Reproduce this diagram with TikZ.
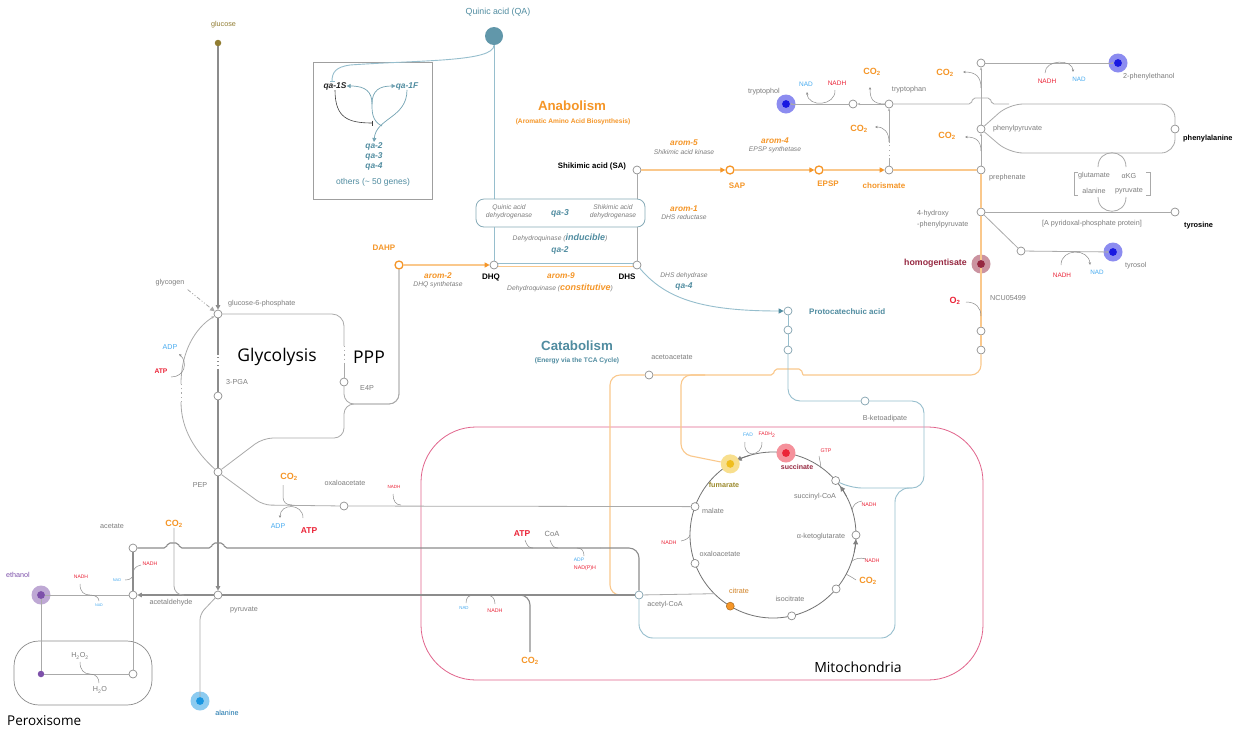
\documentclass[tikz,border=0pt]{standalone}
\usepackage{fontspec}
\setmainfont{Liberation Sans}
\newfontfamily\orgfont{Open Sans}
\usepackage{tikz}
\usetikzlibrary{arrows.meta,positioning,calc}
\definecolor{pgray}{RGB}{125,125,125}
\definecolor{lgray}{RGB}{170,170,170}
\definecolor{dgray}{RGB}{140,140,140}
\definecolor{porange}{RGB}{245,150,40}
\definecolor{lorange}{RGB}{250,200,140}
\definecolor{pteal}{RGB}{80,140,160}
\definecolor{lteal}{RGB}{150,190,205}
\definecolor{pred}{RGB}{235,35,55}
\definecolor{pblue}{RGB}{70,170,240}
\definecolor{ppink}{RGB}{225,100,140}
\definecolor{pviolet}{RGB}{125,80,170}
\definecolor{pindigo}{RGB}{25,25,225}
\definecolor{pwine}{RGB}{150,40,65}
\definecolor{polive}{RGB}{145,125,50}
\definecolor{pyellow}{RGB}{240,190,30}
\definecolor{psky}{RGB}{25,150,225}
\newcommand{\fsz}[1]{\fontsize{#1}{#1}\selectfont}

\begin{document}
\begin{tikzpicture}[x=1pt, y=-1pt,
  met/.style={circle, draw=dgray, fill=white, line width=0.7pt, minimum size=8pt, inner sep=0pt},
  omet/.style={met, draw=porange, line width=1.3pt},
  tmet/.style={met, draw=lteal!85!black},
  halo/.style={circle, inner sep=0pt, minimum size=19pt, fill=#1!50,
    path picture={\fill[#1] (path picture bounding box.center) circle (3.9pt);}},
  bead/.style={circle, inner sep=0pt, minimum size=6.5pt, fill=#1},
  tx/.style={font=\fsz{7.2}, text=pgray, inner sep=0pt},
  ttl/.style={font=\fsz{13.3}\bfseries, inner sep=0pt},
  subt/.style={font=\fsz{6.6}\bfseries, inner sep=0pt},
  enz/.style={font=\fsz{8.3}\bfseries\itshape, text=porange, inner sep=0pt},
  ename/.style={font=\fsz{6.7}\itshape, text=pgray, inner sep=0pt},
  gene/.style={font=\fsz{8.4}\bfseries\itshape, text=pteal, inner sep=0pt},
  cpd/.style={font=\fsz{8}\bfseries, inner sep=0pt},
  co2/.style={font=\fsz{9}\bfseries, text=porange, inner sep=0pt},
  big/.style={font=\orgfont\fsz{17.5}, inner sep=0pt},
  nadh/.style={font=\fsz{#1}, text=pred, inner sep=0pt}, nadh/.default=5.3,
  nad/.style={font=\fsz{#1}, text=pblue, inner sep=0pt}, nad/.default=4,
  gl/.style={draw=lgray, line width=0.8pt},
  gk/.style={draw=dgray, line width=1.1pt},
  ol/.style={draw=lorange, line width=1.1pt},
  tl/.style={draw=lteal, line width=0.9pt},
  qtl/.style={draw=pteal!80, line width=0.7pt},
  crl/.style={draw=dgray, line width=0.5pt},
  tca/.style={draw=gray!110, line width=0.8pt},
  dotline/.style={dash pattern=on 1.2pt off 3pt},
  fwd/.style={-{Triangle[length=4.5pt, width=4.5pt]}},
  otip/.style={-{Triangle[length=5pt, width=5pt, color=porange]}},
  ttip/.style={-{Triangle[length=5pt, width=5pt, color=pteal]}},
  ktip/.style={-{Triangle[length=5pt, width=5pt, color=gray]}},
  sfwd/.style={-{Stealth[length=2.8pt, width=2.4pt]}},
]
\useasboundingbox (0,0) rectangle (1237,732);
\fill[white] (0,0) rectangle (1237,732);

% compartments
\draw[ppink, line width=0.8pt, rounded corners=55pt] (421,427) rectangle (983,680);
\node[font=\orgfont\fsz{14}, inner sep=0pt] (mito) at (858,667) {Mitochondria};
\draw[dgray, line width=0.7pt, rounded corners=25pt] (14,641) rectangle (152,705);
\node[font=\orgfont\fsz{13.5}, inner sep=0pt, anchor=west] (perox) at (7,721) {Peroxisome};

% titles
\node[ttl, text=porange] (anab) at (572,106) {Anabolism};
\node[subt, text=porange] (anabs) at (573,122) {(Aromatic Amino Acid Biosynthesis)};
\node[ttl, text=pteal] (catab) at (577,346) {Catabolism};
\node[subt, text=pteal] (catabs) at (577,361) {(Energy via the TCA Cycle)};
\node[big] (glyl) at (277,357) {Glycolysis};
\node[big] (pppl) at (369,357) {PPP};

% glycolysis / PPP metabolites
\node[bead=polive] (glc) at (218,43) {};
\node[tx, text=polive] (glcl) at (223.5,25) {glucose};
\node[met] (g6p) at (218,314) {};
\node[tx, anchor=west] (g6pl) at (228,304) {glucose-6-phosphate};
\node[tx] (glyg) at (170,283) {glycogen};
\node[met] (pga) at (218,396) {};
\node[tx, anchor=west] (pgal) at (226,382) {3-PGA};
\node[met] (pep) at (218,472) {};
\node[tx] (pepl) at (200,485) {PEP};
\node[nad=7.1] (adp1) at (170,347) {ADP};
\node[nadh, font=\fsz{6.7}\bfseries] (atp1) at (161,371) {ATP};
\node[met] (e4p) at (344,382) {};
\node[tx] (e4pl) at (367,388) {E4P};

% shikimate pathway
\node[omet] (dahp) at (399,265) {};
\node[cpd, text=porange] (dahpl) at (384,248) {DAHP};
\node[met] (dhq) at (494,265) {};
\node[cpd] (dhql) at (491,277) {DHQ};
\node[met] (dhs) at (637,265) {};
\node[cpd] (dhsl) at (627,277) {DHS};
\node[met] (sa) at (637,170) {};
\node[cpd, font=\fsz{7.8}\bfseries] (sal) at (592,166) {Shikimic acid (SA)};
\node[omet] (sap) at (730,170) {};
\node[cpd, text=porange] (sapl) at (737,186) {SAP};
\node[omet] (epsp) at (819,170) {};
\node[cpd, text=porange] (epspl) at (828,184) {EPSP};
\node[met] (chor) at (889,170) {};
\node[cpd, text=porange] (chorl) at (884,186) {chorismate};
\node[circle, fill=pteal!90, minimum size=18pt, inner sep=0pt] (qa) at (494,36) {};
\node[tx, font=\fsz{8.8}, text=pteal] (qal) at (498,12) {Quinic acid (QA)};

\node[enz] (a2) at (438,276) {arom-2};
\node[ename] (a2n) at (438,285) {DHQ synthetase};
\node[enz] (a9) at (561,276) {arom-9};
\node[ename] (a9n) at (560,288) {Dehydroquinase (\textcolor{porange}{\fsz{9}\bfseries constitutive})};
\node[gene] (qa2) at (560,250) {qa-2};
\node[ename] (dqi) at (560,238) {Dehydroquinase (\textcolor{pteal}{\fsz{9}\bfseries inducible})};
\node[enz] (a5) at (684,143) {arom-5};
\node[ename] (a5n) at (684,152) {Shikimic acid kinase};
\node[enz] (a4) at (775,141) {arom-4};
\node[ename] (a4n) at (775,150) {EPSP synthetase};
\node[enz] (a1) at (684,209) {arom-1};
\node[ename] (a1n) at (684,217) {DHS reductase};
\node[ename] (qa4n) at (684,276) {DHS dehydrase};
\node[gene] (qa4) at (684,286) {qa-4};

% aromatic amino acids
\node[met] (trp) at (889,104) {};
\node[tx] (trpl) at (909,90) {tryptophan};
\node[met] (trpm) at (853,104) {};
\node[halo=pindigo] (tol) at (786,104) {};
\node[tx] (toll) at (764,92) {tryptophol};
\node[nad=6.5] (nad1) at (806,84) {NAD};
\node[nadh=6.5] (nadh1) at (837,83) {NADH};
\node[co2] (co2t1) at (859,129) {CO\textsubscript{2}};
\node[co2] (co2t2) at (872,72) {CO\textsubscript{2}};
\node[met] (preph) at (981,170) {};
\node[tx, anchor=west] (prephl) at (989,178) {prephenate};
\node[met] (phpy) at (981,129) {};
\node[tx, anchor=west] (phpyl) at (993,129) {phenylpyruvate};
\node[met] (phtop) at (981,63) {};
\node[halo=pindigo] (phet) at (1118,63) {};
\node[tx, anchor=west] (phetl) at (1123,77) {2-phenylethanol};
\node[nadh=6.5] (nadh2) at (1047,81) {NADH};
\node[nad=6.3] (nad2) at (1079,79) {NAD};
\node[co2] (co2p1) at (947,136) {CO\textsubscript{2}};
\node[co2] (co2p2) at (945,73) {CO\textsubscript{2}};
\node[met] (phe) at (1175,129) {};
\node[cpd, font=\fsz{7.4}\bfseries, anchor=west] (phel) at (1183,139) {phenylalanine};
\node[met] (hpp) at (981,212) {};
\node[tx, anchor=west, align=left, font=\fontsize{7.2}{10.5}\selectfont] (hppl) at (917,219) {4-hydroxy\\-phenylpyruvate};
\node[met] (tyr) at (1175,212) {};
\node[cpd, font=\fsz{7.4}\bfseries, anchor=west] (tyrl) at (1184,226) {tyrosine};
\node[tx] (pyrdx) at (1092,224) {[A pyridoxal-phosphate protein]};
\node[tx] (glut) at (1094,176) {glutamate};
\node[tx] (akgt) at (1129,176) {αKG};
\node[tx] (alat) at (1094,191) {alanine};
\node[tx] (pyrt) at (1129,191) {pyruvate};
\node[met] (tyi) at (1021,251) {};
\node[halo=pindigo] (tyol) at (1113,252) {};
\node[tx, anchor=west] (tyoll) at (1125,266) {tyrosol};
\node[nadh=6.4] (nadh3) at (1062,275) {NADH};
\node[nad=6.3] (nad3) at (1097,272) {NAD};
\node[halo=pwine] (hgs) at (981,264) {};
\node[cpd, font=\fsz{8.8}\bfseries, text=pwine, anchor=east] (hgsl) at (967,263) {homogentisate};
\node[co2, text=pred] (o2l) at (955,301) {O\textsubscript{2}};
\node[tx, anchor=west] (ncu) at (990,298) {NCU05499};
\node[met] (o1) at (981,331) {};
\node[met] (o2) at (981,350) {};

% catabolism
\node[tmet] (pca) at (788,311) {};
\node[cpd, text=pteal, anchor=west] (pcal) at (809,312) {Protocatechuic acid};
\node[tmet] (pc1) at (788,330) {};
\node[tmet] (pc2) at (788,350) {};
\node[tmet] (bka) at (865,401) {};
\node[tx] (bkal) at (885,419) {B-ketoadipate};
\node[met] (aca) at (649,375) {};
\node[tx] (acal) at (672,357) {acetoacetate};
\node[tmet] (acoa) at (639,595) {};
\node[tx] (acoal) at (665,605) {acetyl-CoA};

% cytosol, lower part
\node[met] (oaa1) at (344,506) {};
\node[tx] (oaa1l) at (345,483) {oxaloacetate};
\node[nadh=4.5] (nadh4) at (394,487) {NADH};
\node[co2] (co2o) at (289,477) {CO\textsubscript{2}};
\node[nad=7] (adp2) at (278,526) {ADP};
\node[nadh, font=\fsz{8.5}\bfseries] (atp2) at (309,531) {ATP};
\node[nadh, font=\fsz{8.5}\bfseries] (atp3) at (522,534) {ATP};
\node[tx, font=\fsz{7.5}] (coa) at (552,534) {CoA};
\node[nad=5] (adp3) at (579,560) {ADP};
\node[nadh=5.3] (nadph) at (585,568) {NAD(P)H};
\node[nad=4.4] (nad4) at (464,608) {NAD};
\node[nadh=5.3] (nadh5) at (495,611) {NADH};
\node[co2] (co2y) at (530,661) {CO\textsubscript{2}};
\node[met] (pyr) at (218,595) {};
\node[tx] (pyrl) at (244,610) {pyruvate};
\node[met] (acet) at (133,548) {};
\node[tx] (acetl) at (112,526) {acetate};
\node[co2] (co2a) at (174,524) {CO\textsubscript{2}};
\node[nadh=5.2] (nadh6) at (150,564) {NADH};
\node[nad=3.9] (nad6) at (117,580) {NAD};
\node[met] (acald) at (133,595) {};
\node[tx] (acaldl) at (171,603) {acetaldehyde};
\node[halo=pviolet] (etoh) at (41,595) {};
\node[tx, text=pviolet] (etohl) at (18,575) {ethanol};
\node[nadh=5] (nadh7) at (81,577) {NADH};
\node[nad=3.7] (nad7) at (99,605) {NAD};
\node[bead=pviolet] (etp) at (41,674) {};
\node[met] (pxc) at (133,674) {};
\node[tx] (h2o2) at (80,656) {H\textsubscript{2}O\textsubscript{2}};
\node[tx] (h2o) at (100,690) {H\textsubscript{2}O};
\node[halo=psky] (ala) at (200,701) {};
\node[tx, text=psky!75!black] (alal) at (227,713) {alanine};

% glycolysis backbone
\draw[gk, fwd] (glc) -- (g6p);
\draw[gk, dash pattern=on 37pt off 2pt on 1pt off 3pt on 1pt off 3pt on 1pt off 2.5pt on 60pt] (g6p) -- (pga);
\draw[gk] (pga) -- (pep);
\draw[gk, fwd] (pep) -- (pyr);
\draw[gl, dash pattern=on 4pt off 2pt on 1pt off 2pt on 1pt off 2pt, fwd] ([xshift=3pt,yshift=-3pt]glyg.south east) -- (g6p);
% gluconeogenic bypass
\coordinate (gnA) at (181,402);
\coordinate (gnB) at (181,384);
\draw[gl] (pep) .. controls (196,452) and (181,430) .. (gnA);
\draw[gl, dotline] (gnA) -- (gnB);
\draw[gl, sfwd] (gnB) .. controls (181,352) and (195,328) .. (g6p);
\draw[crl, sfwd] (171,377) .. controls (185,377) and (188,362) .. (179,354);
% PPP
\coordinate (ppA) at (344,346);
\coordinate (ppB) at (344,364);
\coordinate (pjn) at (344,404);
\coordinate (pkn) at (263,438);
\draw[gl, rounded corners=12pt] (g6p) -| (ppA);
\draw[gl, dotline] (ppA) -- (ppB);
\draw[gl] (ppB) -- (e4p);
\draw[gl, rounded corners=10pt] (e4p) -- (pjn) -| (dahp);
\draw[gl, rounded corners=10pt] (pep) -- (pkn) -| (pjn) -| (dahp);

% shikimate pathway
\draw[ol, otip] (dahp) -- (dhq);
\draw[tl] (qa) -- (dhq);
\draw[gl] (sa) -- (dhs);
\draw[tl] ([yshift=2pt]dhq.east) -- ([yshift=2pt]dhs.west);
\draw[ol] ([yshift=-1.5pt]dhq.east) -- ([yshift=-1.5pt]dhs.west);
\draw[ol, otip] (sa) -- (sap);
\draw[ol, otip] (sap) -- (epsp);
\draw[ol, otip] (epsp) -- (chor);
\draw[ol] (chor) -- (preph);
\node[draw=lteal!90!black, fill=white, rounded corners=8pt, minimum width=169pt, minimum height=28pt, line width=0.8pt] (qa3box) at (560.5,213) {};
\node[ename, align=center, font=\fontsize{6.7}{8}\selectfont\itshape] (qdh) at (509,212) {Quinic acid\\dehydrogenase};
\node[gene, font=\fsz{8.6}\bfseries\itshape] (qa3) at (560,213) {qa-3};
\node[ename, align=center, font=\fontsize{6.7}{8}\selectfont\itshape] (sdh) at (613,212) {Shikimic acid\\dehydrogenase};

% quinic acid gene cluster
\draw[gray!75, line width=1pt] (313,62) rectangle (432,199);
\node[gene, text=black!85] (q1s) at (335,86) {qa-1S};
\node[gene] (q1f) at (407,86) {qa-1F};
\node[gene] (q2) at (374,146) {qa-2};
\node[gene] (q3) at (374,156) {qa-3};
\node[gene] (q4) at (374,166) {qa-4};
\node[tx, font=\fsz{8.5}, text=pteal] (qoth) at (373,182) {others ({\textasciitilde} 50 genes)};
\coordinate (qhub) at (382,126);
\coordinate (qfork) at (372,104);
\draw[tl, -{Bar[width=5pt]}] (qa.south) .. controls (494,62) and (420,60) .. (350,65) .. controls (336,67) and (332,72) .. ([xshift=-3pt]q1s.north);
\draw[black!75, line width=0.6pt, -{Bar[width=5pt]}] (q1s.south) .. controls (335,118) and (348,123) .. (373,123);
\draw[qtl, -{Triangle[length=4pt, width=4pt]}] (q1f.south) .. controls (407,118) and (376,118) .. (q2.north);
\draw[qtl] (qhub) .. controls (372,121) and (372,112) .. (qfork);
\draw[qtl, -{Triangle[length=4pt, width=4pt]}] (qfork) .. controls (372,90) and (380,86) .. (q1f.west);
\draw[qtl, -{Triangle[length=4pt, width=4pt]}] (qfork) .. controls (372,92) and (366,86) .. (q1s.east);

% tryptophan branch
\draw[gl, sfwd, dash pattern=on 8pt off 2pt on 1pt off 4pt on 1pt off 4pt on 1pt off 2pt on 60pt] (chor) -- (trp);
\draw[gl, sfwd] (trp) -- (trpm);
\draw[gl, sfwd, shorten >=4pt] (trpm) -- (tol.center);
\draw[crl, sfwd] (835,90) .. controls (836,106) and (808,108) .. (807,92);
\draw[crl, sfwd] (885,104) .. controls (872,104) and (870,98) .. (870,87);
\draw[crl, sfwd] (889,142) .. controls (889,132) and (884,127) .. (875,127);

% phenylalanine / tyrosine branch
\draw[gl, sfwd] (preph) -- (phpy);
\draw[gl, sfwd] (phpy) -- (phtop);
\draw[gl, sfwd, shorten >=4pt] (phtop) -- (phet.center);
\coordinate (tb1) at (971,104);
\coordinate (pl1) at (1009,104);
\coordinate (pl2) at (1175,104);
\coordinate (pl3) at (1009,153);
\coordinate (pl4) at (1175,153);
\draw[gl, rounded corners=2pt] (trp) -- (tb1) -- ++(2,-6) -- ++(17,0) -- ++(2,6) -- (pl1);
\draw[gl, rounded corners=14pt] (phpy) -- (pl1) -- (pl2) -- (phe);
\draw[gl, rounded corners=14pt] (phpy) -- (pl3) -- (pl4) -- (phe);
\draw[crl, sfwd] (981,151) .. controls (981,141) and (976,137) .. (965,137);
\draw[crl, sfwd] (981,88) .. controls (981,77) and (976,72) .. (963,72);
\draw[crl, sfwd] (1045,73) .. controls (1045,59) and (1073,59) .. (1073,72);
\draw[gl] (hpp) -- (tyr);
\draw[gl] (hpp) -- (tyi);
\draw[gl, sfwd, shorten >=4pt] (tyi) -- (tyol.center);
\draw[crl, sfwd] (1061,265) .. controls (1061,248) and (1089,248) .. (1090,265);
\draw[gl] (1098,167) .. controls (1098,148) and (1126,148) .. (1126,167);
\draw[gl] (1098,197) .. controls (1098,216) and (1126,216) .. (1126,197);
\draw[gl, line width=0.6pt] (1078,172) -- (1074,172) -- (1074,195) -- (1078,195);
\draw[gl, line width=0.6pt] (1146,172) -- (1150,172) -- (1150,195) -- (1146,195);

% homogentisate to acetoacetate
\draw[ol] (preph) -- (hpp);
\draw[ol, shorten >=4pt] (hpp) -- (hgs.center);
\draw[ol, shorten <=4pt] (hgs.center) -- (o1);
\draw[ol] (o1) -- (o2);
\draw[crl] (966,302) .. controls (976,302) and (981,308) .. (981,316);
\coordinate (ob1) at (803,375);
\coordinate (oc1) at (610,595);
\coordinate (of1) at (705,375);
\coordinate (of2) at (681,454);
\draw[ol, rounded corners=10pt] (o2) |- (ob1);
\draw[ol, rounded corners=2pt] (ob1) -- ++(-2,-6) -- ++(-26,0) -- ++(-2,6) -- (aca);
\draw[ol, rounded corners=10pt] (aca) -| (oc1) -- (acoa);

% protocatechuic acid route
\draw[tl, ttip] (dhs) .. controls (665,298) and (700,311) .. (pca);
\draw[tl] (pca) -- (pc1) -- (pc2);
\draw[tl, rounded corners=12pt] (pc2) |- (bka);

% TCA cycle
\coordinate (tc) at (773,535);
\draw[tca] (tc) circle (83);
\draw[tca, ktip] ([shift={(12:83)}]tc) arc (12:3:83);
\draw[tca, ktip] ([shift={(-28:83)}]tc) arc (-28:-36:83);
\draw[tca, ktip] ([shift={(-106:83)}]tc) arc (-106:-116:83);
\node[met] (mal) at ([shift={(200:83)}]tc) {};
\node[met] (oaa) at ([shift={(160:83)}]tc) {};
\node[circle, inner sep=0pt, minimum size=8pt, fill=porange, draw=porange!70!black, line width=0.5pt] (cit) at ([shift={(121:83)}]tc) {};
\node[met] (icit) at ([shift={(77:83)}]tc) {};
\node[met] (tca5) at ([shift={(40.5:83)}]tc) {};
\node[met] (akg) at ([shift={(0:83)}]tc) {};
\node[met] (sucoa) at ([shift={(-41:83)}]tc) {};
\node[halo=pred] (suc) at ([shift={(-81:83)}]tc) {};
\node[halo=pyellow] (fum) at ([shift={(-121:83)}]tc) {};
\coordinate (tcin) at ([shift={(135:83)}]tc);
\draw[gl] (acoa) -- (tcin);
\draw[ol, rounded corners=10pt] (of1) -| (of2) -- (fum);
\coordinate (tk1) at (924,488);
\coordinate (tk2) at (850,488);
\coordinate (tk3) at (895,488);
\coordinate (tk4) at (639,638);
\coordinate (tk5) at (912,488);
\draw[tl, rounded corners=12pt] (bka) -| (tk1) -- (tk2) -- (sucoa);
\draw[tl, rounded corners=14pt] (tk5) -- (tk3) |- (tk4) -- (acoa);

\node[cpd, font=\fsz{7.2}\bfseries, text=polive!90!yellow] (fuml) at (724,485) {fumarate};
\node[cpd, font=\fsz{7}\bfseries, text=pwine] (sucl) at (797,467) {succinate};
\node[tx] (sucoal) at (815,497) {succinyl-CoA};
\node[tx] (akgl) at (821,537) {α-ketoglutarate};
\node[tx] (mall) at (713,511) {malate};
\node[tx] (oaal) at (720,554) {oxaloacetate};
\node[tx, text=porange!85!black] (citl) at (739,591) {citrate};
\node[tx] (icitl) at (790,599) {isocitrate};
\node[nad=5] (fad) at (748,435) {FAD};
\node[nadh=5] (fadh) at (767,435) {FADH\textsubscript{2}};
\node[nadh=5.3] (gtp) at (826,451) {GTP};
\node[nadh=5.3] (nadh8) at (869,505) {NADH};
\node[nadh=5.3] (nadh9) at (872,561) {NADH};
\node[co2] (co2k) at (868,581) {CO\textsubscript{2}};
\node[nadh=5.3] (nadh10) at (669,543) {NADH};
\draw[crl] (745,442) .. controls (744,450) and (747,453) .. (752,454);
\draw[crl] (762,442) .. controls (762,450) and (758,453) .. (752,454);
\draw[crl] (819,456) .. controls (820,462) and (821,465) .. (821,468);
\draw[crl] (862,501) .. controls (856,502) and (853,505) .. (852,510);
\draw[crl] (866,559) .. controls (859,557) and (855,559) .. (852,561);
\draw[crl] (856,580) .. controls (852,577) and (849,576) .. (846,574);
\draw[crl] (681,541) .. controls (686,540) and (689,538) .. (690,535);

% cytosol: PEP, pyruvate, acetate
\coordinate (pk2) at (263,505);
\draw[gl, rounded corners=8pt] (pep) -- (pk2) -- (oaa1);
\draw[gl] (oaa1) -- (mal);
\draw[crl] (283,485) -- (283,497) .. controls (283,502) and (286,505) .. (292,505);
\draw[crl, sfwd] (303,518) .. controls (303,503) and (280,503) .. (280,518);
\draw[crl] (393,494) .. controls (393,501) and (396,505) .. (401,505);
\draw[gk] (pyr) -- (acoa);
\coordinate (pc0) at (517,595);
\draw[gk, rounded corners=10pt] (pc0) -| ([yshift=5pt]co2y.north);
\draw[crl] (466,603) .. controls (466,597) and (469,595) .. (475,595);
\draw[crl] (486,595) .. controls (492,595) and (495,598) .. (495,604);
\coordinate (ak1) at (600,548);
\draw[gk, rounded corners=2pt] (acet) -- (166,548) -- ++(2,-5) -- ++(10,0) -- ++(2,5) -- (211,548) -- ++(2,-5) -- ++(10,0) -- ++(2,5) -- (ak1);
\draw[gk, rounded corners=10pt] (ak1) -| (acoa);
\draw[crl] (525,540) .. controls (527,546) and (529,548) .. (533,548);
\draw[crl] (550,540) .. controls (552,546) and (554,548) .. (558,548);
\draw[crl] (577,548) .. controls (582,548) and (584,551) .. (584,556);
\draw[gk, fwd] (pyr) -- (acald);
\coordinate (ca1) at (184,595);
\draw[gl, rounded corners=9pt] (co2a.south) |- (ca1);
\draw[gk] (acald) -- (acet);
\draw[crl] (141,565) .. controls (135,566) and (133,570) .. (133,574) .. controls (133,578) and (130,580) .. (125,580);
\draw[gl, shorten <=4pt] (etoh.center) -- (acald);
\draw[crl] (80,584) .. controls (80,592) and (84,595) .. (90,595) .. controls (96,595) and (99,598) .. (99,601);
\draw[gl, shorten <=4pt] (etoh.center) -- (etp);
\draw[gl] (etp) -- (pxc);
\draw[gl] (pxc) -- (acald);
\draw[crl] (80,662) .. controls (80,670) and (84,674) .. (90,674) .. controls (96,674) and (99,678) .. (99,683);
\coordinate (alk) at (200,614);
\draw[gl, rounded corners=6pt, shorten <=4pt] (ala.center) -- (alk) -- (pyr);
\end{tikzpicture}
\end{document}
